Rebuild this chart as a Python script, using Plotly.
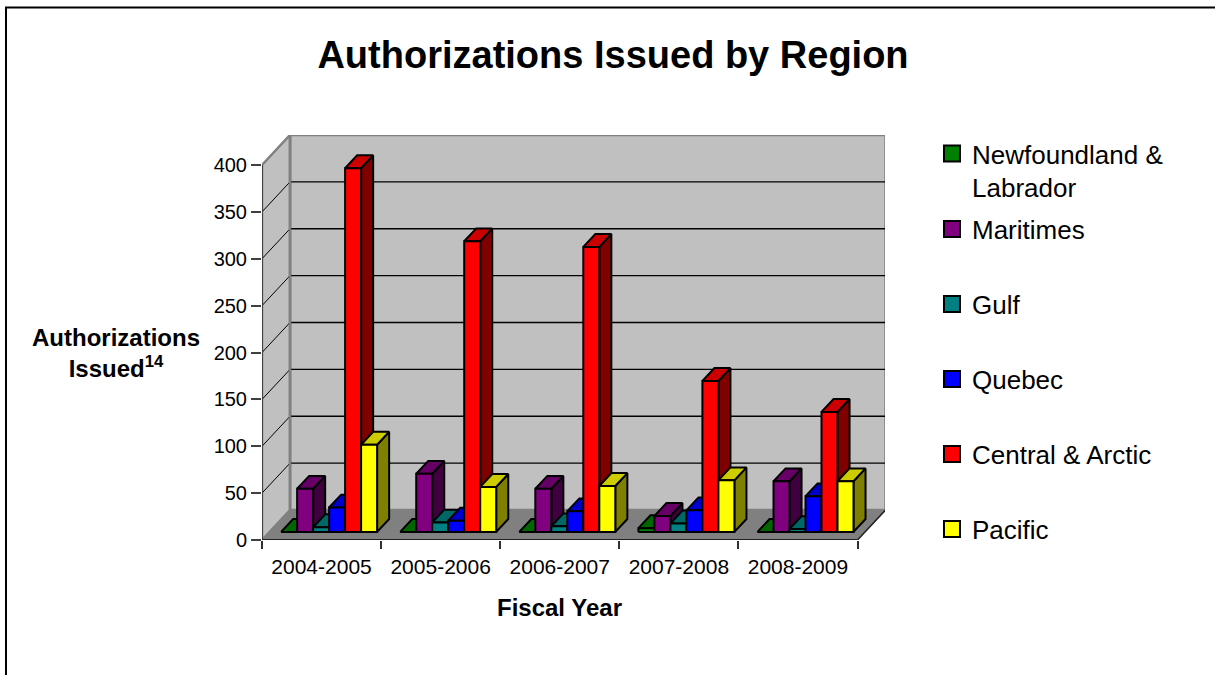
import plotly.graph_objects as go

# ---------------- data ----------------
years = ["2004-2005", "2005-2006", "2006-2007", "2007-2008", "2008-2009"]
regions = ["Newfoundland &<br>Labrador", "Maritimes", "Gulf", "Quebec",
           "Central & Arctic", "Pacific"]
newfoundland = [0, 0, 0, 4, 0]
maritimes = [46, 62, 46, 17, 54]
gulf = [5, 10, 6, 9, 3]
quebec = [26, 12, 22, 23, 38]
central_arctic = [388, 310, 304, 161, 128]
pacific = [93, 48, 49, 55, 54]
y_ticks = [0, 50, 100, 150, 200, 250, 300, 350, 400]

series = [newfoundland, maritimes, gulf, quebec, central_arctic, pacific]

# ---------------- styles ----------------
front_col = ["#008000", "#800080", "#008080", "#0000FF", "#FF0000", "#FFFF00"]
top_col = ["#006600", "#660066", "#006666", "#0000CC", "#CC0000", "#CCCC00"]
side_col = ["#004000", "#400040", "#004040", "#000080", "#800000", "#808000"]
FONT = "Liberation Sans, Arial, sans-serif"

# plot-area geometry (pixels)
L, R, T, B = 262, 885, 135, 540
W_FIG, H_FIG = 1215, 675
PX_PER_X = 119.1
X0 = -0.5
X1 = X0 + (R - L) / PX_PER_X
YMAX = 400 + 32
DX = 28 / PX_PER_X       # depth offset in x units
DY = 32                  # depth offset in y units
F1, F2 = 0.27, 0.70      # bar front / back depth fraction
BW = 0.1343              # bar width in x units
n_cat = len(years)
n_ser = len(series)


def pxx(px):
    return (px - L) / (R - L)


def pxy(py):
    return (B - py) / (B - T)


fig = go.Figure()

# ---------------- walls & floor (shapes) ----------------
xl, xr = -0.5, n_cat - 0.5
top_v = max(y_ticks)
shapes = []
# back wall
shapes.append(dict(type="path", xref="x", yref="y", layer="below",
                   path=f"M{xl+DX},{DY} L{xr+DX},{DY} L{xr+DX},{top_v+DY} L{xl+DX},{top_v+DY} Z",
                   fillcolor="#C0C0C0", line=dict(color="#808080", width=2.5)))
# left wall
shapes.append(dict(type="path", xref="x", yref="y", layer="below",
                   path=f"M{xl},0 L{xl+DX},{DY} L{xl+DX},{top_v+DY} L{xl},{top_v} Z",
                   fillcolor="#C0C0C0", line=dict(color="#808080", width=2.5)))
# floor
shapes.append(dict(type="path", xref="x", yref="y", layer="below",
                   path=f"M{xl},0 L{xr},0 L{xr+DX},{DY} L{xl+DX},{DY} Z",
                   fillcolor="#808080", line=dict(color="#808080", width=1)))
# gridlines
for v in y_ticks[1:-1]:
    shapes.append(dict(type="line", xref="x", yref="y", layer="below",
                       x0=xl + DX, x1=xr + DX, y0=v + DY, y1=v + DY,
                       line=dict(color="black", width=1.3)))
    shapes.append(dict(type="line", xref="x", yref="y", layer="below",
                       x0=xl, x1=xl + DX, y0=v, y1=v + DY,
                       line=dict(color="black", width=1)))
# wall edges
shapes.append(dict(type="line", xref="x", yref="y", layer="below",
                   x0=xl + DX, x1=xl + DX, y0=DY, y1=top_v + DY,
                   line=dict(color="#808080", width=2.5)))
# front axes lines
shapes.append(dict(type="line", xref="x", yref="y", layer="above",
                   x0=xl, x1=xl, y0=0, y1=top_v, line=dict(color="#404040", width=2)))
shapes.append(dict(type="line", xref="x", yref="y", layer="above",
                   x0=xl, x1=xr, y0=0, y1=0, line=dict(color="#202020", width=2)))
shapes.append(dict(type="line", xref="x", yref="y", layer="below",
                   x0=xr, x1=xr + DX, y0=0, y1=DY, line=dict(color="#202020", width=1.5)))
# outer chart border
shapes.append(dict(type="rect", xref="paper", yref="paper",
                   x0=pxx(6), x1=pxx(1240), y0=pxy(7.5), y1=pxy(700),
                   line=dict(color="black", width=2), fillcolor="rgba(0,0,0,0)"))

# ---------------- bars (pseudo 3-D) ----------------
ddx = (F2 - F1) * DX
ddy = (F2 - F1) * DY
for j, vals in enumerate(series):
    fx, fy, tx, ty, sx, sy = [], [], [], [], [], []
    for i, v in enumerate(vals):
        x0 = i - n_ser / 2 * BW + j * BW + F1 * DX
        x1 = x0 + BW
        y0 = F1 * DY
        y1 = y0 + v
        fx += [x0, x1, x1, x0, x0, None]
        fy += [y0, y0, y1, y1, y0, None]
        tx += [x0, x1, x1 + ddx, x0 + ddx, x0, None]
        ty += [y1, y1, y1 + ddy, y1 + ddy, y1, None]
        sx += [x1, x1 + ddx, x1 + ddx, x1, x1, None]
        sy += [y0, y0 + ddy, y1 + ddy, y1, y0, None]
    for xs, ys, col in ((sx, sy, side_col[j]), (tx, ty, top_col[j]), (fx, fy, front_col[j])):
        fig.add_trace(go.Scatter(x=xs, y=ys, mode="lines", fill="toself",
                                 fillcolor=col, line=dict(color="black", width=2),
                                 showlegend=False, hoverinfo="skip"))

# ---------------- legend entries ----------------
legend_centers = [155, 229, 304, 379, 454, 529]
layout_legends = {}
for j, name in enumerate(regions):
    key = "legend" if j == 0 else f"legend{j+1}"
    fig.add_trace(go.Scatter(x=[None], y=[None], mode="markers", name=name,
                             legend=key, showlegend=True,
                             marker=dict(symbol="square", size=16, color=front_col[j],
                                         line=dict(color="black", width=2))))
    if j == 0:
        layout_legends[key] = dict(x=pxx(932), y=pxy(legend_centers[j] - 25),
                                   xanchor="left", yanchor="top", valign="top")
    else:
        layout_legends[key] = dict(x=pxx(932), y=pxy(legend_centers[j]),
                                   xanchor="left", yanchor="middle")
    layout_legends[key].update(font=dict(family=FONT, size=26, color="black"),
                               bgcolor="rgba(0,0,0,0)", borderwidth=0,
                               itemsizing="trace")

# invisible trace for secondary x axis (category boundary ticks)
fig.add_trace(go.Scatter(x=[None], y=[None], xaxis="x2", showlegend=False,
                         hoverinfo="skip"))

fig.update_layout(
    width=W_FIG, height=H_FIG,
    margin=dict(l=L, r=W_FIG - R, t=T, b=H_FIG - B),
    paper_bgcolor="white", plot_bgcolor="white",
    font=dict(family=FONT, color="black"),
    title=dict(text="<b>Authorizations Issued by Region</b>",
               x=613 / W_FIG, xanchor="center", y=1 - 55 / H_FIG, yanchor="middle",
               yref="container", xref="container",
               font=dict(family=FONT, size=38, color="black")),
    xaxis=dict(range=[X0, X1], tickvals=list(range(n_cat)), ticktext=years,
               ticks="outside", ticklen=8, tickcolor="rgba(0,0,0,0)",
               tickfont=dict(size=21, color="black"),
               showgrid=False, zeroline=False, showline=False, fixedrange=True),
    xaxis2=dict(range=[X0, X1], overlaying="x", anchor="y", side="bottom",
                tickvals=[k - 0.5 for k in range(n_cat + 1)],
                ticks="outside", ticklen=8, tickwidth=1.5, tickcolor="#303030",
                showticklabels=False, showgrid=False, zeroline=False, showline=False),
    yaxis=dict(range=[0, YMAX], tickvals=y_ticks, ticks="outside", ticklen=10,
               tickwidth=1.5, tickcolor="#404040",
               tickfont=dict(size=20, color="black"),
               showgrid=False, zeroline=False, showline=False, fixedrange=True),
    shapes=shapes,
    annotations=[
        dict(text="<b>Authorizations</b><br><b>Issued<sup>14</sup></b>",
             xref="paper", yref="paper", x=pxx(116), y=pxy(353),
             xanchor="center", yanchor="middle", showarrow=False,
             font=dict(family=FONT, size=24, color="black")),
        dict(text="<b>Fiscal Year</b>", xref="paper", yref="paper",
             x=pxx(559), y=pxy(607), xanchor="center", yanchor="middle",
             showarrow=False, font=dict(family=FONT, size=24, color="black")),
    ],
    **layout_legends,
)

fig.write_html("out.html")
